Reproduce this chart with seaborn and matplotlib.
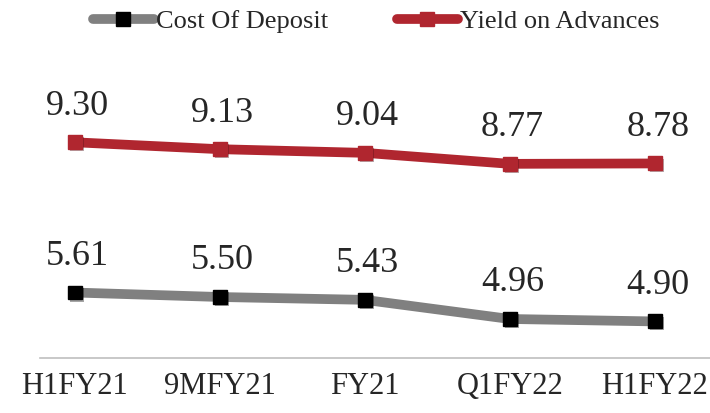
import seaborn as sns
import matplotlib.pyplot as plt
import matplotlib.patheffects as pe
from matplotlib.lines import Line2D
import pandas as pd

# data
periods = ["H1FY21", "9MFY21", "FY21", "Q1FY22", "H1FY22"]
cost_of_deposit = [5.61, 5.50, 5.43, 4.96, 4.90]
yield_on_advances = [9.30, 9.13, 9.04, 8.77, 8.78]

grey = "#808080"
red = "#B0262F"

sns.set_style("white")
plt.rcParams['font.family'] = ['Liberation Serif', 'DejaVu Serif']

df = pd.DataFrame({"period": periods, "cost": cost_of_deposit, "yield": yield_on_advances})
df["x"] = range(len(periods))

fig = plt.figure(figsize=(7.1, 4.13), dpi=100)
ax = fig.add_axes([0.056, 0.133, 0.944, 0.838])

shadow = [pe.SimplePatchShadow(offset=(1.5, -1.5), alpha=0.35), pe.Normal()]

series = [("cost", "Cost Of Deposit", grey, "black"),
          ("yield", "Yield on Advances", red, red)]
for col, label, line_c, mark_c in series:
    sns.lineplot(data=df, x="x", y=col, ax=ax, color=line_c, linewidth=7,
                 solid_capstyle="butt", label=label, legend=False)
    ax.plot(df["x"], df[col], linestyle="none", marker="s", markersize=10,
            markerfacecolor=mark_c, markeredgecolor=mark_c, path_effects=shadow)
    for xi, v in zip(df["x"], df[col]):
        ax.annotate(f"{v:.2f}", (xi, v), xytext=(2, 26), textcoords="offset points",
                    ha="center", va="center", fontsize=26)

ax.set_xlim(-0.24, 4.38)
ax.set_ylim(4, 12.5)
ax.set_xticks(df["x"])
ax.set_xticklabels(periods, fontsize=22)
ax.set_yticks([])
ax.set_xlabel("")
ax.set_ylabel("")
ax.tick_params(axis="x", length=0, pad=10)
for s in ["top", "right", "left"]:
    ax.spines[s].set_visible(False)
ax.spines["bottom"].set_color("#BFBFBF")
ax.spines["bottom"].set_linewidth(1.2)

# legend handles with square markers in the middle
handles = [Line2D([], [], color=grey, linewidth=7, solid_capstyle="round", marker="s",
                  markersize=10, markerfacecolor="black", markeredgecolor="black"),
           Line2D([], [], color=red, linewidth=7, solid_capstyle="round", marker="s",
                  markersize=10, markerfacecolor=red, markeredgecolor=red)]
fig.legend(handles, ["Cost Of Deposit", "Yield on Advances"], loc="upper center",
           bbox_to_anchor=(0.53, 1.035), ncol=2, frameon=False, fontsize=19,
           handlelength=2.3, handletextpad=0.1, columnspacing=2.6)

plt.savefig("out.png", dpi=100)
plt.close()
